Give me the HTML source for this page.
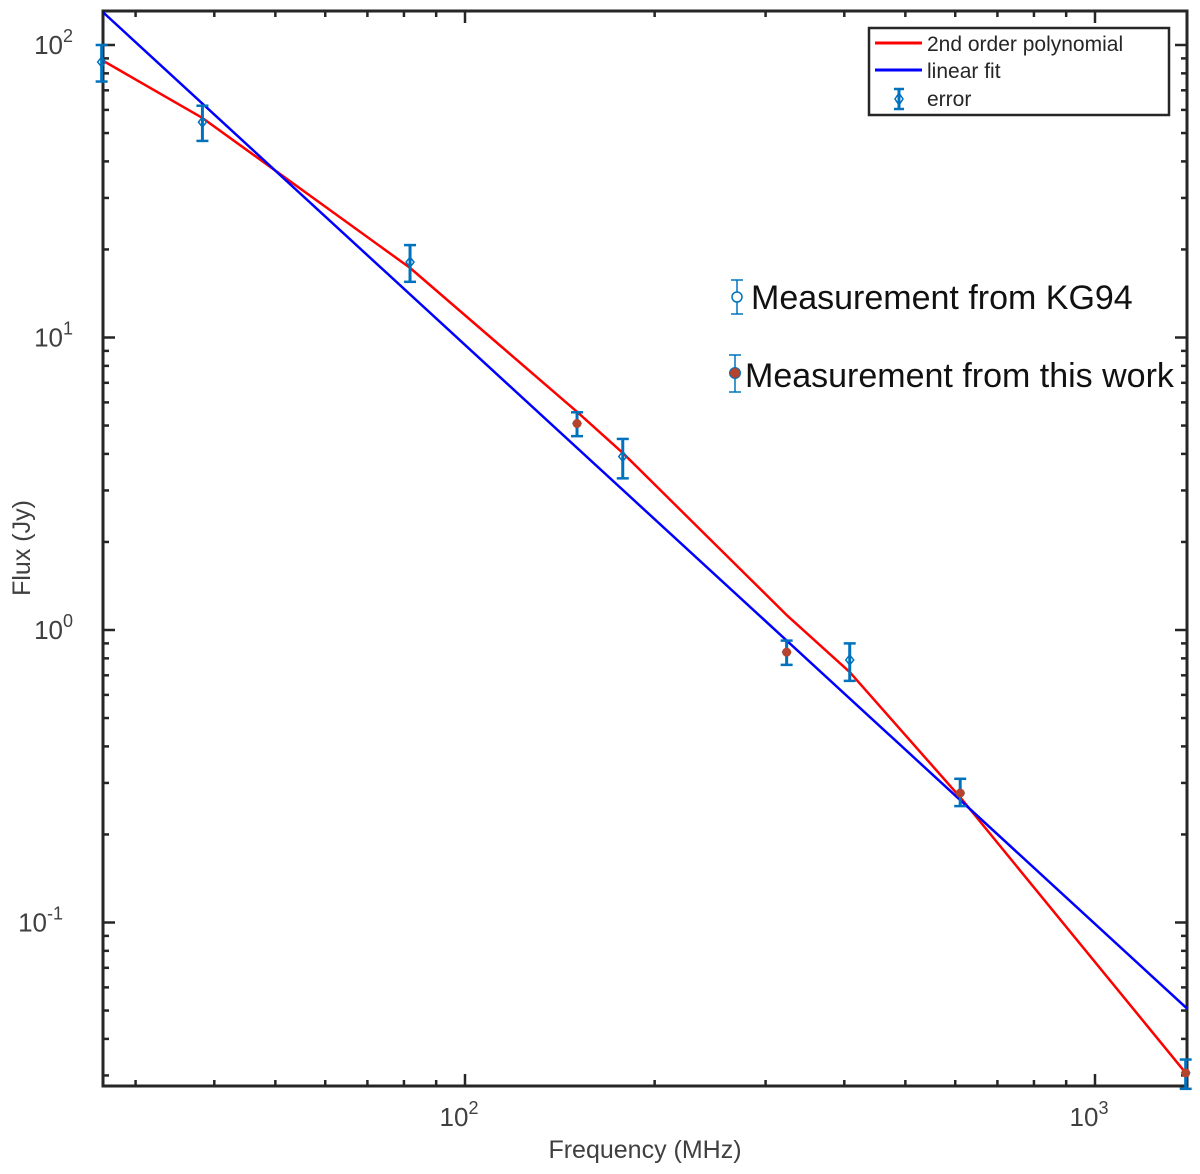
<!DOCTYPE html>
<html><head><meta charset="utf-8"><style>
body{margin:0;background:#fff;width:1200px;height:1169px;overflow:hidden}
svg text{font-family:"Liberation Sans","DejaVu Sans",sans-serif}
</style></head><body>
<svg id="chart" width="1200" height="1169" xmlns="http://www.w3.org/2000/svg"></svg>
<script>
const freqs=[26.5,38.3,81.8,150.6,178,324,408,611,1393];
const fluxes=[87.5,54.5,18.1,5.08,3.92,0.84,0.79,0.277,0.0306];
const errLo=[75,47,15.5,4.6,3.3,0.76,0.67,0.25,0.027];
const errHi=[100,62,20.7,5.55,4.5,0.92,0.9,0.31,0.034];
const filled=[false,false,false,true,false,true,false,true,true];
const polyVals=[88.9,56.3,17.3,5.57,4.03,1.125,0.718,0.268,0.0306];
const linFreqs=[26.5,1400];
const linVals=[130.7,0.0508];
const yTicks=[0.1,1,10,100];
const yTickLabels=["10","10","10","10"];
const yTickExp=["-1","0","1","2"];
const xTicks=[100,1000];
const xTickExp=["2","3"];

const L=103,R=1187,T=11,B=1086;
const X=f=>465+(Math.log10(f)-2)*630;
const Y=s=>45+(2-Math.log10(s))*292.5;
const svg=document.getElementById('chart');
const NS='http://www.w3.org/2000/svg';
function mk(tag,attrs,parent){const e=document.createElementNS(NS,tag);for(const k in attrs)e.setAttribute(k,attrs[k]);(parent||svg).appendChild(e);return e;}

const clip=mk('clipPath',{id:'pc'});mk('rect',{x:L,y:T,width:R-L,height:B-T},clip);

const ax=mk('g',{});


for(let d=1;d<=3;d++){for(let m=1;m<10;m++){const f=m*Math.pow(10,d);const x=X(f);if(x<L||x>R)continue;const len=m===1?12:6;
mk('line',{x1:x,y1:B,x2:x,y2:B-len,stroke:'#262626','stroke-width':2.5},ax);mk('line',{x1:x,y1:T,x2:x,y2:T+len,stroke:'#262626','stroke-width':2.5},ax);}}
for(let d=-2;d<=2;d++){for(let m=1;m<10;m++){const s=m*Math.pow(10,d);const y=Y(s);if(y<T||y>B)continue;const len=m===1?12:6;
mk('line',{x1:L,y1:y,x2:L+len,y2:y,stroke:'#262626','stroke-width':2.5},ax);mk('line',{x1:R,y1:y,x2:R-len,y2:y,stroke:'#262626','stroke-width':2.5},ax);}}
mk('rect',{x:L,y:T,width:R-L,height:B-T,fill:'none',stroke:'#262626','stroke-width':3},ax);

yTicks.forEach((v,i)=>{const t=mk('text',{x:L-20,y:Y(v)+9,'text-anchor':'end','font-size':26,fill:'#404040'});

t.textContent=yTickLabels[i];const s=mk('tspan',{dy:-12,'font-size':18},t);s.textContent=yTickExp[i];
t.setAttribute('x',L-20-(yTickExp[i].length*10));});
xTicks.forEach((v,i)=>{const t=mk('text',{x:X(v)-6,y:B+40,'text-anchor':'middle','font-size':26,fill:'#404040'});

t.textContent='10';const s=mk('tspan',{dy:-12,'font-size':18},t);s.textContent=xTickExp[i];});

const xt=mk('text',{x:645,y:1158,'text-anchor':'middle','font-size':25,fill:'#404040'});xt.textContent='Frequency (MHz)';

const yt=mk('text',{x:30,y:548,'text-anchor':'middle','font-size':25,fill:'#404040',transform:'rotate(-90 30 548)'});yt.textContent='Flux (Jy)';


const g=mk('g',{'clip-path':'url(#pc)'});
const red=mk('polyline',{points:freqs.map((f,i)=>X(f)+','+Y(polyVals[i])).join(' '),fill:'none',stroke:'#ff0000','stroke-width':2.5,'stroke-linejoin':'round'},g);

const blue=mk('polyline',{points:linFreqs.map((f,i)=>X(f)+','+Y(linVals[i])).join(' '),fill:'none',stroke:'#0000ff','stroke-width':2.5},g);


freqs.forEach((f,i)=>{const x=X(f);const pg=mk('g',{});

mk('line',{x1:x,y1:Y(errLo[i]),x2:x,y2:Y(errHi[i]),stroke:'#0072bd','stroke-width':3},pg);
mk('line',{x1:x-6,y1:Y(errLo[i]),x2:x+6,y2:Y(errLo[i]),stroke:'#0072bd','stroke-width':2.5},pg);
mk('line',{x1:x-6,y1:Y(errHi[i]),x2:x+6,y2:Y(errHi[i]),stroke:'#0072bd','stroke-width':2.5},pg);
const y=Y(fluxes[i]);
mk('path',{d:`M${x} ${y-5}L${x+4} ${y}L${x} ${y+5}L${x-4} ${y}Z`,fill:'none',stroke:'#0072bd','stroke-width':1.5},pg);
if(filled[i])mk('circle',{cx:x,cy:y,r:4.5,fill:'#b5432e'},pg);});

const lg=mk('g',{});
mk('rect',{x:869,y:28,width:300,height:87,fill:'#fff',stroke:'#262626','stroke-width':2.5},lg);
mk('line',{x1:875,y1:43,x2:922,y2:43,stroke:'#ff0000','stroke-width':3},lg);
mk('line',{x1:875,y1:70,x2:922,y2:70,stroke:'#0000ff','stroke-width':3},lg);
mk('line',{x1:899,y1:89,x2:899,y2:109,stroke:'#0072bd','stroke-width':3},lg);
mk('line',{x1:894,y1:89,x2:904,y2:89,stroke:'#0072bd','stroke-width':2.5},lg);
mk('line',{x1:894,y1:109,x2:904,y2:109,stroke:'#0072bd','stroke-width':2.5},lg);
mk('path',{d:'M899 93L903 99L899 105L895 99Z',fill:'none',stroke:'#0072bd','stroke-width':1.5},lg);
[['2nd order polynomial',51],['linear fit',78],['error',106]].forEach(([s,y])=>{const t=mk('text',{x:927,y:y,'font-size':21,fill:'#262626'},lg);t.textContent=s;
});

const an=mk('g',{});
mk('line',{x1:737,y1:280,x2:737,y2:314,stroke:'#0072bd','stroke-width':1.5},an);
mk('line',{x1:731,y1:280,x2:743,y2:280,stroke:'#0072bd','stroke-width':1.5},an);
mk('line',{x1:731,y1:314,x2:743,y2:314,stroke:'#0072bd','stroke-width':1.5},an);
mk('circle',{cx:737,cy:297,r:5,fill:'#fff',stroke:'#0072bd','stroke-width':1.5},an);
mk('line',{x1:735,y1:355,x2:735,y2:392,stroke:'#0072bd','stroke-width':1.5},an);
mk('line',{x1:729,y1:355,x2:741,y2:355,stroke:'#0072bd','stroke-width':1.5},an);
mk('line',{x1:729,y1:392,x2:741,y2:392,stroke:'#0072bd','stroke-width':1.5},an);
mk('circle',{cx:735,cy:373,r:5.5,fill:'#b5432e',stroke:'#0072bd','stroke-width':1},an);
const a1=mk('text',{x:751,y:309,'font-size':34,fill:'#111'},an);a1.textContent='Measurement from KG94';
const a2=mk('text',{x:745,y:387,'font-size':34,fill:'#111'},an);a2.textContent='Measurement from this work';
</script>
</body></html>
